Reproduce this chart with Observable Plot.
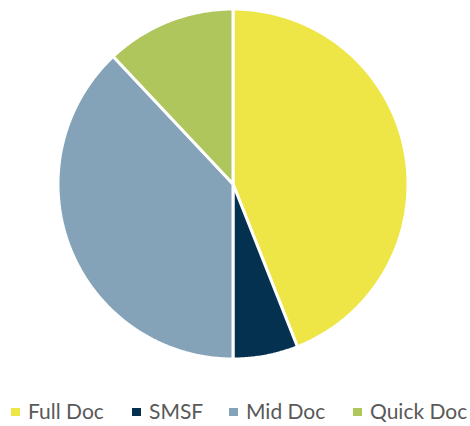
<!DOCTYPE html>
<html>
<head>
<meta charset="utf-8">
<script src="https://cdn.jsdelivr.net/npm/d3@7"></script>
<script src="https://cdn.jsdelivr.net/npm/@observablehq/plot@0.6"></script>
<style>
  html, body { margin: 0; padding: 0; background: #fff; }
  #wrap { position: relative; width: 470px; height: 426px; }
  #legend { position: absolute; left: 0; top: 398px; width: 470px; height: 28px;
    font-family: Lato, "Open Sans", sans-serif; font-size: 21px; color: #595959; }
  .item { position: absolute; top: 0; display: flex; align-items: center; white-space: nowrap; }
  .sw { width: 9px; height: 8px; margin-right: 8px; margin-top: 2px; }
</style>
</head>
<body>
<div id="wrap"><div id="chart"></div><div id="legend"></div></div>
<script>
const categories = ["Full Doc", "SMSF", "Mid Doc", "Quick Doc"];
const values = [44, 6, 38, 12];
const colors = ["#EEE546", "#03314F", "#84A3B8", "#AEC65C"];

const pie = d3.pie().sort(null).startAngle(0).endAngle(2 * Math.PI)(values);
const rows = [];
pie.forEach((p, i) => {
  const n = Math.max(2, Math.ceil((p.endAngle - p.startAngle) / (Math.PI / 360)));
  for (let k = 0; k <= n; k++) {
    const a = p.startAngle + (p.endAngle - p.startAngle) * k / n;
    rows.push({name: categories[i], x1: Math.sin(a), y1: Math.cos(a), x2: 0, y2: 0});
  }
});

const chart = Plot.plot({
  width: 470,
  height: 370,
  marginLeft: 58,
  marginRight: 62,
  marginTop: 9,
  marginBottom: 11,
  x: {domain: [-1, 1], axis: null},
  y: {domain: [-1, 1], axis: null},
  color: {domain: categories, range: colors},
  marks: [
    Plot.area(rows, {x1: "x1", y1: "y1", x2: "x2", y2: "y2", z: "name", fill: "name",
      stroke: "white", strokeWidth: 3, strokeLinejoin: "miter"})
  ]
});
document.getElementById("chart").appendChild(chart);

const legendLeft = [11, 132, 229, 353];
const legend = document.getElementById("legend");
categories.forEach((c, i) => {
  const item = document.createElement("div");
  item.className = "item";
  item.style.left = legendLeft[i] + "px";
  const sw = document.createElement("span");
  sw.className = "sw";
  sw.style.background = chart.scale("color").apply(c);
  const t = document.createElement("span");
  t.textContent = c;
  item.appendChild(sw);
  item.appendChild(t);
  legend.appendChild(item);
});
</script>
</body>
</html>
